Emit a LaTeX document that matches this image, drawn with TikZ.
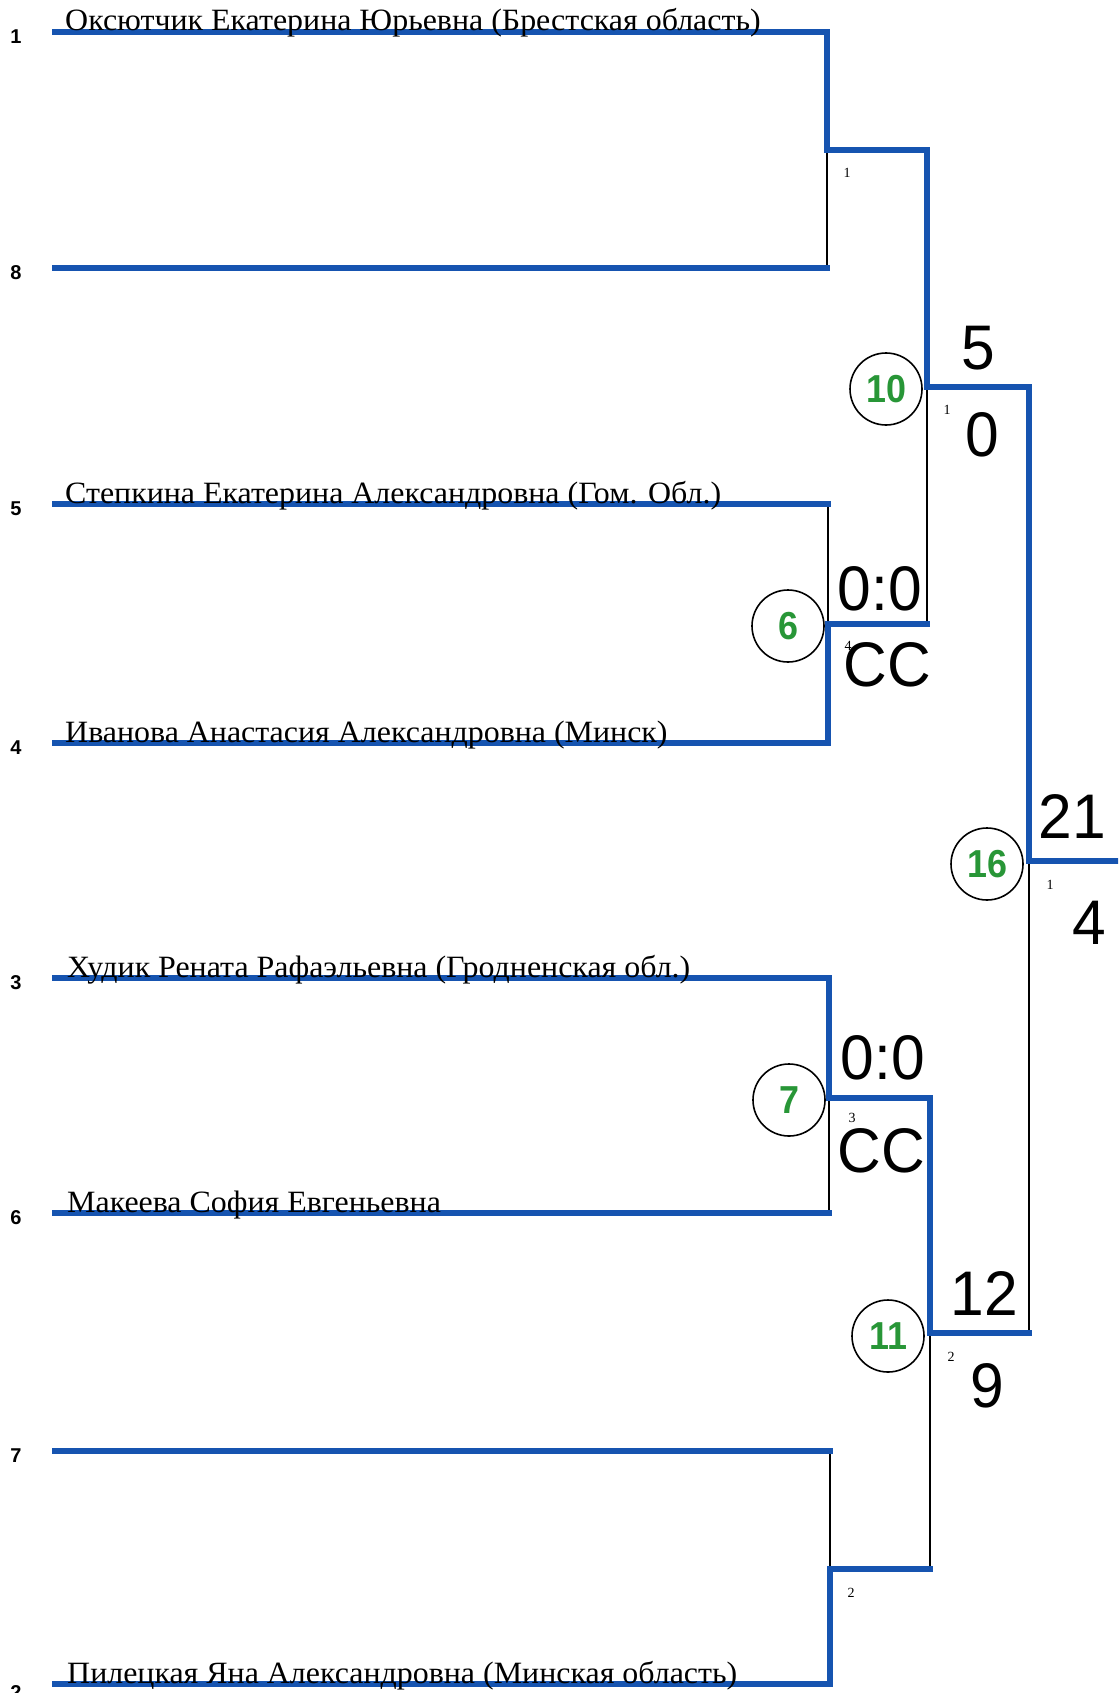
\documentclass[tikz,border=0pt]{standalone}
\usepackage{fontspec}
\setmainfont{Liberation Serif}
\newfontfamily\namefont[FakeStretch=1.03]{Liberation Serif}
\newfontfamily\scorefont[FakeStretch=0.96]{Liberation Sans}
\newfontfamily\seedfont{Liberation Sans}
\newfontfamily\circfont[FakeStretch=0.92]{Liberation Sans}
\definecolor{bblue}{RGB}{22,84,176}
\definecolor{cgreen}{RGB}{40,150,55}
\tikzset{
  winline/.style={draw=bblue,line width=5.5pt,line join=miter,line cap=rect},
  thinline/.style={draw=black,line width=1.4pt},
  namelabel/.style={anchor=base west,inner sep=0pt,font=\namefont\fontsize{31}{31}\selectfont},
  seedlabel/.style={inner sep=0pt,font=\seedfont\bfseries\fontsize{20}{20}\selectfont},
  scorelabel/.style={inner sep=0pt,font=\scorefont\fontsize{63}{63}\selectfont},
  smalllabel/.style={inner sep=0pt,font=\fontsize{14}{14}\selectfont},
  matchcircle/.style={circle,draw=black,line width=1.6pt,minimum size=72pt,inner sep=0pt,
    text=cgreen,font=\circfont\bfseries\fontsize{39}{39}\selectfont}
}
\begin{document}
\begin{tikzpicture}[x=1pt,y=-1pt]
\clip (0,0) rectangle (1118,1693);
\fill[white] (0,0) rectangle (1118,1693);
% coordinates
\coordinate (L1) at (55,32);   \coordinate (R1) at (827,32);
\coordinate (L8) at (55,268);  \coordinate (R8) at (827,268);
\coordinate (L5) at (55,504);  \coordinate (R5) at (828,504);
\coordinate (L4) at (55,743);  \coordinate (R4) at (828,743);
\coordinate (L3) at (55,978);  \coordinate (R3) at (829,978);
\coordinate (L6) at (55,1213); \coordinate (R6) at (829,1213);
\coordinate (L7) at (55,1451); \coordinate (R7) at (830,1451);
\coordinate (L2) at (55,1684); \coordinate (R2) at (830,1684);
\coordinate (M1) at (827,150);  \coordinate (N1) at (927,150);
\coordinate (M2) at (828,624);  \coordinate (N2) at (927,624);
\coordinate (M3) at (829,1098); \coordinate (N3) at (930,1098);
\coordinate (M4) at (830,1569); \coordinate (N4) at (930,1569);
\coordinate (S1) at (927,387);  \coordinate (T1) at (1029,387);
\coordinate (S2) at (930,1333); \coordinate (T2) at (1029,1333);
\coordinate (F)  at (1029,861); \coordinate (E)  at (1118,861);
% thin (loser) lines
\draw[thinline] (R8) -- (M1);
\draw[thinline] (R5) -- (M2);
\draw[thinline] (N2) -- (S1);
\draw[thinline] (M3) -- (R6);
\draw[thinline] (R7) -- (M4);
\draw[thinline] (N4) -- (S2);
\draw[thinline] (T2) -- (F);
% winner lines
\draw[winline] (L1) -- (R1) -- (M1) -- (N1) -- (S1) -- (T1) -- (F) -- (E);
\draw[winline] (L8) -- (R8);
\draw[winline] (L5) -- (R5);
\draw[winline] (L4) -- (R4) -- (M2) -- (N2);
\draw[winline] (L3) -- (R3) -- (M3) -- (N3) -- (S2) -- (T2);
\draw[winline] (L6) -- (R6);
\draw[winline] (L7) -- (R7);
\draw[winline] (L2) -- (R2) -- (M4) -- (N4);
% names
\node[namelabel] (n1) at (65,31) {Оксютчик Екатерина Юрьевна (Брестская область)};
\node[namelabel] (n5) at (65,503) {Степкина Екатерина Александровна (Гом. Обл.)};
\node[namelabel] (n4) at (65,742) {Иванова Анастасия Александровна (Минск)};
\node[namelabel] (n3) at (67,977) {Худик Рената Рафаэльевна (Гродненская обл.)};
\node[namelabel] (n6) at (67,1212) {Макеева София Евгеньевна};
\node[namelabel] (n2) at (67,1683) {Пилецкая Яна Александровна (Минская область)};
% seeds
\node[seedlabel] (s1) at (16,37) {1};
\node[seedlabel] (s8) at (16,273) {8};
\node[seedlabel] (s5) at (16,509) {5};
\node[seedlabel] (s4) at (16,748) {4};
\node[seedlabel] (s3) at (16,983) {3};
\node[seedlabel] (s6) at (16,1218) {6};
\node[seedlabel] (s7) at (16,1456) {7};
\node[seedlabel] (s2) at (16,1692) {2};
% match circles
\node[matchcircle] (c10) at (886,389) {10};
\node[matchcircle] (c6) at (788,626) {6};
\node[matchcircle] (c16) at (987,864) {16};
\node[matchcircle] (c7) at (789,1100) {7};
\node[matchcircle] (c11) at (888,1336) {11};
% scores
\node[scorelabel] (a5) at (978,348) {5};
\node[scorelabel] (a0) at (982,435) {0};
\node[scorelabel] (b00) at (880,589) {0:0};
\node[scorelabel] (bcc) at (887,665) {CC};
\node[scorelabel] (f21) at (1072,816) {21};
\node[scorelabel] (f4) at (1089,923) {4};
\node[scorelabel] (d00) at (883,1058) {0:0};
\node[scorelabel] (dcc) at (881,1151) {CC};
\node[scorelabel] (e12) at (984,1293) {12};
\node[scorelabel] (e9) at (987,1386) {9};
% small numbers
\node[smalllabel] (p1) at (847,173) {1};
\node[smalllabel] (p2) at (947,410) {1};
\node[smalllabel] (p3) at (848,646) {4};
\node[smalllabel] (p4) at (1050,885) {1};
\node[smalllabel] (p5) at (852,1118) {3};
\node[smalllabel] (p6) at (951,1357) {2};
\node[smalllabel] (p7) at (851,1593) {2};
\end{tikzpicture}
\end{document}
